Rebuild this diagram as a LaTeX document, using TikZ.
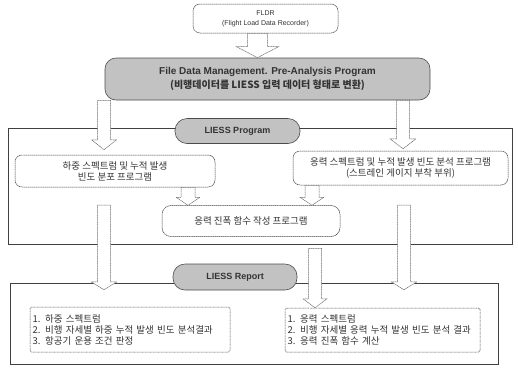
\documentclass[tikz,border=0pt]{standalone}
\usepackage{fontspec}
\setmainfont{Liberation Sans}
\newfontfamily\kr{Noto Sans CJK KR}
\usetikzlibrary{calc}
\newcommand\blkarrow[5]{%
  \draw[barrow] ($(#1)+(-#3,0)$) -- ($(#2)+(-#3,-#5)$) -- ($(#2)+(-#4,-#5)$) -- (#2)
    -- ($(#2)+(#4,-#5)$) -- ($(#2)+(#3,-#5)$) -- ($(#1)+(#3,0)$) -- cycle;}
\begin{document}
\begin{tikzpicture}[x=1pt,y=-1pt,
  rbox/.style={draw=black!75, line width=0.5pt, dash pattern=on 1.4pt off 0.5pt,
    rounded corners=7pt, fill=white, inner sep=1pt, align=center},
  graybox/.style={draw=black!70, line width=0.6pt, fill=black!24,
    rounded corners=11pt, inner sep=1pt, align=center},
  frame/.style={draw=black!75, line width=0.6pt, inner sep=0pt},
  resbox/.style={draw=black!70, line width=0.5pt, dash pattern=on 1pt off 0.6pt,
    rounded corners=1.5pt, fill=white, inner sep=2pt, align=left},
  barrow/.style={draw=black!60, line width=0.5pt, dash pattern=on 1.2pt off 0.5pt, fill=white},
  krtext/.style={font=\fontsize{9.5}{11}\kr, text=black!80}
]
\useasboundingbox (0,0) rectangle (518,368);

% frames
\node[frame, minimum width=504pt, minimum height=116pt] (progframe) at (260,186) {};
\node[frame, minimum width=488pt, minimum height=81pt] (repframe) at (254,323.5) {};

% boxes
\node[rbox, minimum width=145pt, minimum height=29pt,
  font=\fontsize{7}{10}\selectfont, text=black!80] (fldr) at (265.5,18.5)
  {FLDR\\(Flight Load Data Recorder)};
\node[graybox, minimum width=325pt, minimum height=42pt,
  font=\fontsize{10}{14}\selectfont\bfseries, text=black!80] (fdm) at (267.5,79)
  {File Data Management. Pre-Analysis Program\\{\kr\fontsize{10}{14}\selectfont (비행데이터를 LIESS 입력 데이터 형태로 변환)}};
\node[graybox, minimum width=125pt, minimum height=25pt, rounded corners=12pt,
  font=\fontsize{9}{11}\selectfont\bfseries, text=black!80] (prog) at (237.5,131)
  {LIESS Program};
\node[graybox, minimum width=124pt, minimum height=26pt, rounded corners=12pt,
  font=\fontsize{9}{11}\selectfont\bfseries, text=black!80] (rep) at (235,277)
  {LIESS Report};

\node[rbox, krtext, minimum width=200pt, minimum height=32pt] (loadbox) at (115,171)
  {하중 스펙트럼 및 누적 발생\\빈도 분포 프로그램};
\node[rbox, krtext, minimum width=215pt, minimum height=34pt] (stressbox) at (400.5,168)
  {응력 스펙트럼 및 누적 발생 빈도 분석 프로그램\\(스트레인 게이지 부착 부위)};
\node[rbox, krtext, minimum width=178pt, minimum height=31pt, rounded corners=9pt] (ampbox) at (251,221)
  {응력 진폭 함수 작성 프로그램};

\node[resbox, krtext, minimum width=200pt, minimum height=45pt, text width=195pt] (resL) at (130,329.5)
  {1. 하중 스펙트럼\\2. 비행 자세별 하중 누적 발생 빈도 분석결과\\3. 항공기 운용 조건 판정};
\node[resbox, krtext, minimum width=195pt, minimum height=44pt, text width=190pt] (resR) at (382.5,330)
  {1. 응력 스펙트럼\\2. 비행 자세별 응력 누적 발생 빈도 분석 결과\\3. 응력 진폭 함수 계산};

% connector coordinates
\coordinate (a1s) at ($(fldr.south)+(-8,0)$);
\coordinate (a1e) at (a1s |- fdm.north);
\coordinate (a2s) at (fdm.south -| 104,0);
\coordinate (a2e) at ($(loadbox.north -| 104,0)+(0,-5)$);
\coordinate (a3s) at (fdm.south -| 403,0);
\coordinate (a3e) at ($(stressbox.north -| 403,0)+(0,-2)$);
\coordinate (a4s) at (loadbox.south -| 188,0);
\coordinate (a4e) at (ampbox.north -| 188,0);
\coordinate (a5s) at (stressbox.south -| 312,0);
\coordinate (a5e) at (ampbox.north -| 312,0);
\coordinate (a6s) at (104,205);
\coordinate (a6e) at ($(resL.north -| 104,0)+(0,-17)$);
\coordinate (a7s) at (404,205);
\coordinate (a7e) at ($(resR.north -| 404,0)+(0,-18)$);
\coordinate (a8s) at ($(progframe.south -| 315,0)+(0,4)$);
\coordinate (a8e) at (resR.north -| 315,0);

% block arrows
\blkarrow{a1s}{a1e}{10}{21}{11}
\blkarrow{a2s}{a2e}{6.5}{12.5}{10}
\blkarrow{a3s}{a3e}{6.5}{13}{10}
\blkarrow{a4s}{a4e}{7}{12}{8}
\blkarrow{a5s}{a5e}{7}{12}{8}
\blkarrow{a6s}{a6e}{6.5}{13}{8}
\blkarrow{a7s}{a7e}{6.5}{13}{8}
\blkarrow{a8s}{a8e}{6.5}{12}{9}
\end{tikzpicture}
\end{document}
